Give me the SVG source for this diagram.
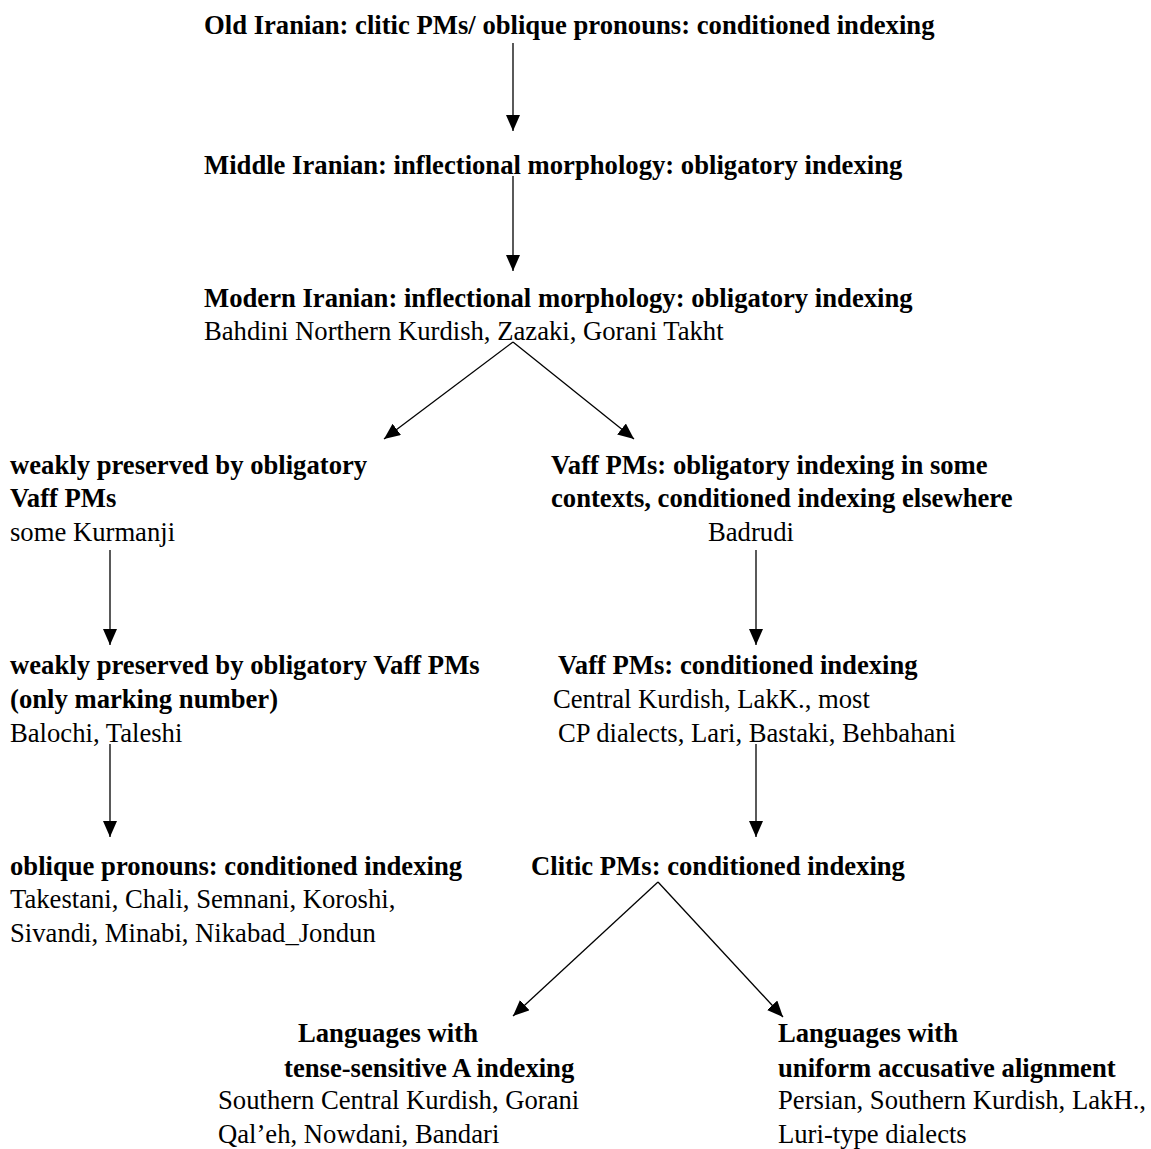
<svg xmlns="http://www.w3.org/2000/svg" width="1151" height="1149" viewBox="0 0 1151 1149">
<style>
text{font-family:"Liberation Serif","Times New Roman",serif;font-size:26.67px;fill:#000}
.b{font-weight:bold}
.c{stroke:#000;stroke-width:1.3;fill:none;marker-end:url(#ah)}
</style>
<defs>
<marker id="ah" markerUnits="userSpaceOnUse" markerWidth="17" markerHeight="15" refX="16" refY="7" orient="auto">
<path d="M0,0 L16,7 L0,14 z" fill="#000"/>
</marker>
</defs>
<rect width="1151" height="1149" fill="#fff"/>
<g id="connectors">
<line class="c" x1="513" y1="43" x2="513" y2="131"/>
<line class="c" x1="513" y1="176" x2="513" y2="271"/>
<line class="c" x1="513" y1="342" x2="384" y2="439"/>
<line class="c" x1="513" y1="342" x2="634" y2="439"/>
<line class="c" x1="110" y1="550" x2="110" y2="645"/>
<line class="c" x1="756" y1="550" x2="756" y2="645"/>
<line class="c" x1="110" y1="744" x2="110" y2="837"/>
<line class="c" x1="756" y1="744" x2="756" y2="837"/>
<line class="c" x1="658" y1="882" x2="513" y2="1016"/>
<line class="c" x1="658" y1="882" x2="783" y2="1017"/>
</g>
<g id="old-iranian">
<text class="b" x="204" y="34">Old Iranian: clitic PMs/ oblique pronouns: conditioned indexing</text>
</g>
<g id="middle-iranian">
<text class="b" x="204" y="174">Middle Iranian: inflectional morphology: obligatory indexing</text>
</g>
<g id="modern-iranian">
<text class="b" x="204" y="307">Modern Iranian: inflectional morphology: obligatory indexing</text>
<text x="204" y="340">Bahdini Northern Kurdish, Zazaki, Gorani Takht</text>
</g>
<g id="weakly-obligatory">
<text class="b" x="10" y="474">weakly preserved by obligatory</text>
<text class="b" x="10" y="507">Vaff PMs</text>
<text x="10" y="541">some Kurmanji</text>
</g>
<g id="vaff-obligatory-some">
<text class="b" x="551" y="474">Vaff PMs: obligatory indexing in some</text>
<text class="b" x="551" y="507">contexts, conditioned indexing elsewhere</text>
<text x="708" y="541">Badrudi</text>
</g>
<g id="weakly-number">
<text class="b" x="10" y="674">weakly preserved by obligatory Vaff PMs</text>
<text class="b" x="10" y="708">(only marking number)</text>
<text x="10" y="742">Balochi, Taleshi</text>
</g>
<g id="vaff-conditioned">
<text class="b" x="558" y="674">Vaff PMs: conditioned indexing</text>
<text x="553" y="708">Central Kurdish, LakK., most</text>
<text x="558" y="742">CP dialects, Lari, Bastaki, Behbahani</text>
</g>
<g id="oblique-pronouns">
<text class="b" x="10" y="875">oblique pronouns: conditioned indexing</text>
<text x="10" y="908">Takestani, Chali, Semnani, Koroshi,</text>
<text x="10" y="942">Sivandi, Minabi, Nikabad_Jondun</text>
</g>
<g id="clitic-pms">
<text class="b" x="531" y="875">Clitic PMs: conditioned indexing</text>
</g>
<g id="tense-sensitive">
<text class="b" x="298" y="1042">Languages with</text>
<text class="b" x="284" y="1077">tense-sensitive A indexing</text>
<text x="218" y="1109">Southern Central Kurdish, Gorani</text>
<text x="218" y="1143">Qal’eh, Nowdani, Bandari</text>
</g>
<g id="uniform-accusative">
<text class="b" x="778" y="1042">Languages with</text>
<text class="b" x="778" y="1077">uniform accusative alignment</text>
<text x="778" y="1109">Persian, Southern Kurdish, LakH.,</text>
<text x="778" y="1143">Luri-type dialects</text>
</g>
</svg>
